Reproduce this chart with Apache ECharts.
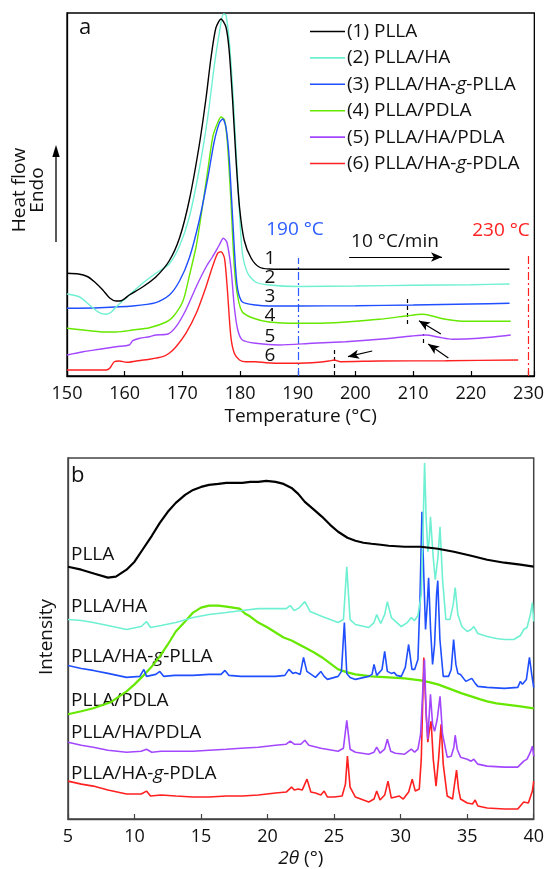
<!DOCTYPE html>
<html>
<head>
<meta charset="utf-8">
<script src="https://cdn.jsdelivr.net/npm/echarts@6/dist/echarts.min.js"></script>
<style>
  html, body { margin: 0; padding: 0; background: #fff; }
  #chart { width: 547px; height: 869px; }
</style>
</head>
<body>
<div id="chart"></div>
<script>
// ---- (a) DSC heating curves: [temperature (°C), heat flow (a.u., curves offset)] ----
const dscPLLA = [
  [150,102.7],[152,102],[153.5,99.5],[154.8,94],[156.2,86],[157.4,78],[158.5,75],[159.4,75.3],
  [160.8,81],[163.1,89],[165.4,99],[167.7,115],[169.5,138],[171.2,176],[172.9,230],[174.1,278],
  [174.95,318],[175.8,348],[176.7,357],[177.55,349],[178.1,326],[178.7,276],[179.3,216],[179.9,169],
  [180.7,136],[181.9,118],[183.3,109],[185,107],[190,106.7],[200,106.7],[210,106.7],[220,106.7],[226.7,106.7]
];
const dscPLLAHA = [
  [150,82],[152.2,79],[153.9,71],[155.6,63.3],[156.8,61.7],[157.7,64],[158.5,69],[160.8,81],
  [163.1,92.7],[165.4,102.7],[167.7,112],[169.5,130],[171.2,159],[172.9,206],[174.4,259],[175.5,309],
  [176.4,343],[177.1,362],[177.55,361],[178.1,336],[178.7,289],[179.3,226],[179.9,163],[180.4,123],
  [181.3,103],[182.7,94],[185,91],[190,89.5],[200,90],[210,90.7],[220,91.3],[226.7,92]
];
const dscPLLAHAgPLLA = [
  [150,67.7],[155.6,68.3],[161.4,70],[165.4,73.3],[167.75,81],[169.5,95],[171.2,118],[172.9,155],
  [174.4,198],[175.5,234],[176.4,253],[177,257],[177.55,249],[178.1,219],[178.7,159],[179.2,109],
  [179.6,86],[180.4,74],[182.7,71],[185,70],[190,70],[200,70.3],[210,71],[220,72],[226.7,72.7]
];
const dscPLLAPDLA = [
  [150,47.7],[152.8,46],[155.6,44.3],[158.5,44],[161.4,46],[164.3,48.3],[167.2,54],[168.5,60],
  [170.1,75],[171.2,100],[172.4,130],[173.5,170],[174.5,210],[175.3,240],[176.1,253],[176.7,259],
  [177.3,256],[177.8,233],[178.4,176],[179,109],[179.6,79],[180.4,64],[182.2,58],[185,54],
  [190,52.7],[195,53],[198.3,54],[204.1,56.7],[208.7,60],[211.6,61.7],[213.3,60],[215.6,56.7],
  [217.9,55],[221.4,54.7],[226.9,54.7]
];
const dscPLLAHAPDLA = [
  [150,21],[152.8,24.3],[155.6,26.7],[158.5,29.3],[160.8,31],[161.4,35.3],[162.6,37.7],[164.3,39.3],
  [165.4,41],[167.5,42],[168.9,49.3],[170.6,66],[172.4,89.3],[174.1,109],[175.2,119],[176.4,131],
  [177.1,137.7],[177.7,134],[178.4,109],[179,69],[179.6,46],[180.4,36],[182.7,32.7],[186.8,31],
  [192.5,32.7],[198.3,34.3],[204.1,36.7],[209.8,40],[212.2,41],[214.5,38.7],[216.8,36.7],[221.4,37.7],[226.9,41]
];
const dscPLLAHAgPDLA = [
  [150,6],[156.8,6],[157.4,7.7],[158.2,14.3],[159.1,15],[160.3,13.7],[162,15],[164.3,16.7],
  [166.6,19.3],[167.7,22.7],[168.9,29.3],[170.6,42.7],[172.4,62.7],[174.1,89.3],[175.2,109],[176.1,122.7],
  [176.7,124.3],[177.3,117.7],[177.8,86],[178.4,39.3],[179,22.7],[179.9,16],[181,14.3],[182.7,14.3],
  [184.5,13.3],[187.4,12.7],[192.5,13.3],[195.4,15],[196.3,16],[197.4,14.3],[204.1,15],[215.6,15.3],[228.2,16]
];

// ---- (b) XRD patterns: [2θ (°), intensity (a.u., patterns offset)] ----
const xrdPLLA = [
  [5,253],[6,250],[7,246],[8,242],[8.6,243],[9.4,250],[10,258],[10.6,270],[11.3,284],[11.9,297],
  [12.5,308],[13.1,317],[13.8,325],[14.4,330],[15,333],[15.6,335],[16.3,336],[16.9,337],[17.5,337],
  [18.1,337],[18.7,338],[19.3,338],[19.9,339],[20.6,338],[21.2,336],[21.8,332],[22.3,326],[22.8,318],
  [23.5,310],[24.1,303],[24.7,295],[25.3,288],[26,282],[26.6,279],[27.2,277],[27.8,276],[28.5,275],
  [29.1,274],[30.3,273],[31.5,273],[32.8,271],[34,268],[35.3,264],[36.5,260],[37.8,257],[39,255],[40,253]
];
const xrdPLLAHA = [
  [5,200],[6,199],[6.9,197],[8,194],[9.4,190],[10.5,193],[10.9,198],[11.2,192],[12,194],[13.1,197],
  [14.4,202],[15.6,205],[16.9,207],[18.1,209],[19.3,211],[20.6,211],[21.4,211],[21.7,214],[22,209],
  [22.4,212],[22.8,218],[23.2,208],[24.1,203],[25.3,197],[25.7,200],[25.95,253],[26.2,200],[26.6,195],
  [27.6,192],[28,197],[28.2,205],[28.5,196],[28.8,205],[29,218],[29.3,202],[30.05,193],[30.5,197],
  [30.8,202],[31.05,199],[31.3,204],[31.55,225],[31.68,290],[31.8,357],[31.92,300],[32.05,268],
  [32.15,280],[32.24,303],[32.45,262],[32.6,240],[32.8,262],[32.96,293],[33.15,240],[33.4,200],
  [33.7,200],[33.95,215],[34.1,232],[34.3,205],[34.6,193],[35,188],[35.3,190],[35.5,193],[35.8,186],
  [36.5,183],[37.2,181],[37.8,180],[38.5,180],[39,184],[39.25,190],[39.5,192],[39.75,205],[39.9,217],[40,198]
];
const xrdPLLAHAgPLLA = [
  [5,154],[6,151],[6.9,149],[8,146],[9.4,142],[10.4,143],[10.7,150],[10.9,143],[11.6,145],[11.9,148],
  [12.2,143],[13,144],[14.4,144],[15.6,145],[16.5,145],[16.8,149],[17.1,144],[18,143],[19.3,143],
  [20.6,143],[21.3,144],[21.6,150],[21.75,152],[21.9,146],[22.1,147],[22.45,145],[22.7,162],[22.95,148],
  [23.1,147],[23.6,142],[24,148],[24.25,143],[24.5,140],[25.3,143],[25.55,148],[25.77,197],[25.95,146],
  [26.2,142],[26.6,140],[27.6,143],[27.85,145],[28,155],[28.2,144],[28.6,150],[28.8,168],[29,148],
  [29.3,146],[29.5,147],[29.7,144],[30.05,143],[30.35,152],[30.6,175],[30.85,150],[31.05,150],[31.3,160],
  [31.45,220],[31.6,308],[31.75,240],[31.87,190],[32,215],[32.1,242],[32.25,190],[32.4,155],[32.55,175],
  [32.7,225],[32.79,239],[32.95,180],[33.2,143],[33.6,143],[33.8,150],[33.98,180],[34.15,155],[34.3,146],
  [34.5,145],[34.9,138],[35.35,141],[35.6,136],[35.8,133],[36.5,132],[37.8,131],[38.8,132],[39,138],
  [39.15,135],[39.45,140],[39.68,162],[39.85,145],[40,132]
];
const xrdPLLAPDLA = [
  [5,105],[6,108],[6.9,111],[8.2,117],[9.4,128],[10,135],[10.6,143],[11.3,153],[11.9,163],[12.5,175],
  [13.1,188],[13.8,198],[14.4,207],[15,212],[15.6,214],[16.3,214],[16.9,213],[17.4,212],[17.9,211],
  [18.3,206],[18.7,203],[19.3,197],[20,192],[20.6,187],[21.2,182],[21.8,179],[22.8,172],[23.5,167],
  [24.1,162],[24.7,156],[25.3,150],[26,147],[26.6,145],[27.8,143],[29.1,142],[30.3,141],[31.5,139],
  [32.2,137],[32.8,135],[33.4,132],[34,129],[34.6,126],[35.3,123],[36,120],[36.5,118],[37.2,116],
  [37.8,115],[39,113],[40,111]
];
const xrdPLLAHAPDLA = [
  [5,77],[6,74],[6.9,72],[8,69],[9.4,67],[10.5,68],[10.9,70],[11.3,67],[12,68],[13,68],[14.4,68],
  [15.6,69],[16.9,70],[18,71],[19.3,72],[20.6,74],[21.4,75],[21.7,78],[22,75],[22.5,75],[22.8,79],
  [23.1,74],[24,71],[25.3,68],[25.7,71],[25.95,99],[26.2,70],[26.6,67],[27.6,65],[28,67],[28.2,72],
  [28.45,66],[28.8,70],[29,80],[29.25,68],[29.6,66],[30.3,65],[30.6,68],[30.8,70],[31.05,67],[31.3,70],
  [31.5,85],[31.65,125],[31.79,160],[31.92,105],[32.04,80],[32.15,105],[32.24,125],[32.4,95],[32.55,88],
  [32.75,100],[32.96,123],[33.15,85],[33.5,62],[33.8,63],[34,72],[34.1,84],[34.25,70],[34.5,62],
  [35,60],[35.3,58],[35.5,60],[35.8,55],[36.5,53],[37.8,52],[38.8,52],[39.25,58],[39.5,60],[39.75,67],
  [39.9,73],[40,63]
];
const xrdPLLAHAgPDLA = [
  [5,38],[6,35],[6.9,33],[8,29],[9.4,25],[10.5,25],[10.9,28],[11.2,23],[12,24],[13.1,23],[14.4,22],
  [15.6,22],[16.9,23],[18.1,23],[19.3,24],[20.6,26],[21.4,27],[21.8,32],[22,29],[22.3,30],[22.6,29],
  [22.96,40],[23.25,27],[23.6,26],[24,24],[24.25,28],[24.5,22],[25,22],[25.6,23],[25.85,35],[26,63],
  [26.2,32],[26.6,22],[27.6,17],[28,20],[28.2,28],[28.45,19],[28.8,24],[29.05,38],[29.3,21],[29.6,22],
  [29.9,23],[30.2,20],[30.6,27],[30.87,40],[31.1,28],[31.4,30],[31.55,60],[31.74,162],[31.9,110],
  [32.04,77],[32.15,88],[32.29,98],[32.45,60],[32.66,33],[32.85,60],[33.04,95],[33.2,55],[33.5,23],
  [33.9,20],[34.05,35],[34.2,49],[34.35,30],[34.5,20],[35,16],[35.4,15],[35.6,19],[35.8,13],[36.5,11],
  [37.8,10],[38.8,10],[39.25,17],[39.4,15],[39.6,16],[39.9,28],[40,38]
];

// Sample names and tick values
const dscNames = ['(1) PLLA', '(2) PLLA/HA', '(3) PLLA/HA-g-PLLA', '(4) PLLA/PDLA', '(5) PLLA/HA/PDLA', '(6) PLLA/HA-g-PDLA'];
const xrdNames = ['PLLA', 'PLLA/HA', 'PLLA/HA-g-PLLA', 'PLLA/PDLA', 'PLLA/HA/PDLA', 'PLLA/HA-g-PDLA'];
const curveNumbers = ['1', '2', '3', '4', '5', '6'];
const dscTempTicks = [150, 160, 170, 180, 190, 200, 210, 220, 230];
const xrdAngleTicks = [5, 10, 15, 20, 25, 30, 35, 40];

const dscData = [dscPLLA, dscPLLAHA, dscPLLAHAgPLLA, dscPLLAPDLA, dscPLLAHAPDLA, dscPLLAHAgPDLA];
const xrdData = [xrdPLLA, xrdPLLAHA, xrdPLLAHAgPLLA, xrdPLLAPDLA, xrdPLLAHAPDLA, xrdPLLAHAgPDLA];

const COLORS = ['#000000', '#6ff0d2', '#1f4fff', '#66e800', '#a347ff', '#ff2020'];
const FONT = '"Open Sans", "Noto Sans", sans-serif';
const TXT = '#111';

// italic "g" in grafted-sample names
const italG = s => s.replace('-g-', '-{i|g}-');
const richI = (size) => ({ i: { fontStyle: 'italic', fontSize: size, fontFamily: FONT, fill: TXT, color: TXT } });

const chart = echarts.init(document.getElementById('chart'), null, { renderer: 'canvas' });

const baseX = (min, max, ticks, gridIndex, nameRich, name, frameColor) => ({
  type: 'value', gridIndex, min, max, interval: ticks[1] - ticks[0],
  name, nameLocation: 'middle', nameGap: 31,
  nameTextStyle: Object.assign({ fontFamily: FONT, fontSize: 19, color: TXT }, nameRich ? { rich: nameRich } : {}),
  axisLine: { show: true, onZero: false, lineStyle: { color: frameColor, width: 1.3 } },
  axisTick: { show: true, inside: true, length: 5, lineStyle: { color: frameColor, width: 1.2 } },
  axisLabel: {
    margin: 9, fontFamily: FONT, fontSize: 18, color: TXT,
    formatter: v => (ticks.indexOf(v) >= 0 ? String(v) : '')
  },
  splitLine: { show: false }
});
const baseY = (max, gridIndex, frameColor) => ({
  type: 'value', gridIndex, min: 0, max,
  axisLine: { show: true, lineStyle: { color: frameColor, width: 1.3 } },
  axisTick: { show: false }, axisLabel: { show: false }, splitLine: { show: false }
});

const series = [];
dscData.forEach((d, i) => {
  series.push({
    name: dscNames[i], type: 'line', xAxisIndex: 0, yAxisIndex: 0, data: d,
    smooth: 0.25, symbol: 'none', showSymbol: false, silent: true,
    lineStyle: { color: COLORS[i], width: 1.4 }, itemStyle: { color: COLORS[i] },
    z: 10 - i
  });
});
xrdData.forEach((d, i) => {
  series.push({
    name: 'XRD ' + xrdNames[i], type: 'line', xAxisIndex: 1, yAxisIndex: 1, data: d,
    symbol: 'none', showSymbol: false, silent: true,
    lineStyle: { color: COLORS[i], width: i === 0 || i === 3 ? 2.2 : 1.6 },
    z: i === 3 ? 5 : 10 - i
  });
});

// guide lines and arrows drawn in temperature / heat-flow coordinates
const dashDot = [8, 3, 2, 3];
const seg = (a, b, color, type, arrow) => [
  { coord: a, symbol: 'none', lineStyle: { color, type, width: 1.2 } },
  { coord: b, symbol: arrow ? 'arrow' : 'none', symbolSize: [7, 11] }
];
series.push({
  name: 'guides', type: 'line', xAxisIndex: 0, yAxisIndex: 0, data: [], silent: true,
  markLine: {
    silent: true, animation: false, label: { show: false }, symbol: ['none', 'none'],
    data: [
      seg([190, 0], [190, 118], '#2a5cff', dashDot, false),
      seg([229.9, 0], [229.9, 123], '#ff2020', dashDot, false),
      seg([198.9, 119], [215.0, 119], '#000', 'solid', true),
      seg([209.0, 52], [209.0, 78], '#000', [4, 3], false),
      seg([211.7, 33], [211.7, 42], '#000', [4, 3], false),
      seg([196.3, 1], [196.3, 28], '#000', [4, 3], false),
      seg([214.8, 42], [211.0, 55.3], '#000', 'solid', true),
      seg([216.1, 18], [212.6, 32], '#000', 'solid', true),
      seg([202.9, 25], [198.7, 19.3], '#000', 'solid', true)
    ]
  }
});

const text = (x, y, str, opt) => ({
  type: 'text', x, y, silent: true, rotation: (opt && opt.rotation) || 0,
  style: Object.assign({
    text: str, fontFamily: FONT, fontSize: 19, fill: TXT, align: 'left', verticalAlign: 'middle'
  }, opt && opt.style)
});

const numberY = [259, 278, 297, 316, 337, 356];
const xrdLabelY = [555, 607, 657, 701, 733, 774];

const graphics = [
  text(79, 28, 'a', { style: { fontSize: 22 } }),
  text(71, 476, 'b', { style: { fontSize: 22 } }),
  text(20, 190, 'Heat flow', { rotation: Math.PI / 2, style: { align: 'center' } }),
  text(38, 190, 'Endo', { rotation: Math.PI / 2, style: { align: 'center' } }),
  text(47, 637, 'Intensity', { rotation: Math.PI / 2, style: { align: 'center' } }),
  text(295, 230, '190 °C', { style: { align: 'center', fill: '#2a5cff' } }),
  text(501, 231, '230 °C', { style: { align: 'center', fill: '#ff2020' } }),
  text(395, 242, '10 °C/min', { style: { align: 'center' } }),
  { type: 'line', silent: true, shape: { x1: 56, y1: 242, x2: 56, y2: 154 }, style: { stroke: '#000', lineWidth: 1.3 } },
  { type: 'polygon', silent: true, shape: { points: [[56, 145], [52.3, 157], [59.7, 157]] }, style: { fill: '#000' } }
];
curveNumbers.forEach((n, i) => graphics.push(text(270, numberY[i], n, { style: { align: 'center' } })));
xrdNames.forEach((n, i) => graphics.push(text(71, xrdLabelY[i], italG(n), { style: { rich: richI(19) } })));

chart.setOption({
  animation: false,
  backgroundColor: '#fff',
  textStyle: { fontFamily: FONT },
  grid: [
    { left: 67, top: 13, width: 469, height: 363, show: true, borderColor: '#000', borderWidth: 1.3, backgroundColor: 'transparent' },
    { left: 68, top: 458, width: 469, height: 362, show: true, borderColor: '#444', borderWidth: 1.5, backgroundColor: 'transparent' }
  ],
  xAxis: [
    baseX(150, 231, dscTempTicks, 0, null, 'Temperature (°C)', '#000'),
    Object.assign(baseX(5, 40, xrdAngleTicks, 1, richI(19), '{i|2θ} (°)', '#444'), { nameGap: 30 })
  ],
  yAxis: [baseY(363, 0, '#000'), baseY(362, 1, '#444')],
  legend: {
    data: dscNames, orient: 'vertical', left: 310, top: 22, padding: 0,
    icon: 'rect', itemWidth: 35, itemHeight: 1.6, itemGap: 7.4, selectedMode: false,
    formatter: n => italG(n),
    textStyle: { fontFamily: FONT, fontSize: 19, color: TXT, lineHeight: 14, height: 14, padding: [0, 0, 0, -3], rich: { i: { fontStyle: 'italic', fontSize: 19, fontFamily: FONT, color: TXT, lineHeight: 14 } } }
  },
  series,
  graphic: graphics
});
</script>
</body>
</html>
